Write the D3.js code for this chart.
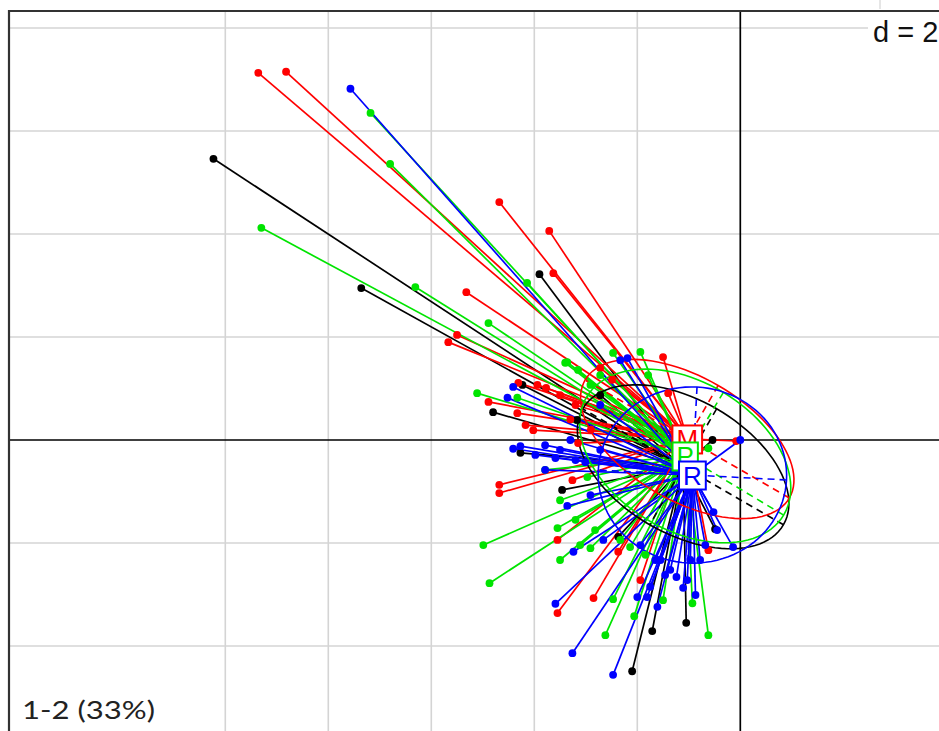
<!DOCTYPE html>
<html><head><meta charset="utf-8">
<script src="https://cdn.jsdelivr.net/npm/d3@7"></script>
<style>html,body{margin:0;padding:0;background:#fff;overflow:hidden} svg{display:block}</style>
</head><body>
<script>
// ---- data (factorial map coordinates, axis 1 horizontal, axis 2 vertical) ----
const groupNames  = ["K", "M", "P", "R"];
const groupLabels = ["", "M", "P", "R"];
const groupColors = ["#000000", "#ff0000", "#00e400", "#0000ff"];

// group means (centres of the stars / ellipses)
const centerX = [-1.11, -1.03, -1.07, -0.93];
const centerY = [-0.52,  0.02, -0.31, -0.68];

// ellipse semi-axes and orientation (degrees)
const ellA     = [2.25, 2.29, 2.23, 1.83];
const ellB     = [1.30, 1.20, 1.44, 1.71];
const ellAngle = [-30, -30, -31, -3];

const blackX = [-10.23, -7.36, -3.90, -4.23, -4.80, -4.27, -3.46, -2.37, -1.71, -1.05, -2.10, -0.49, -0.54, -3.17, -2.72];
const blackY = [  5.46,  2.95,  3.22,  1.07,  0.54, -0.25, -0.97, -1.88, -3.71, -3.55, -4.49, -1.73,  0.00,  0.39,  0.87];

const redX = [-9.36, -8.82, -4.68, -3.71, -3.63, -5.32, -5.67, -5.50, -4.89, -4.33, -4.17, -4.02, -3.94, -3.15, -4.68, -4.68,
              -3.26, -3.55, -3.55, -2.85, -2.37, -1.94, -0.62, -1.50, -1.40, -0.08, -3.77, -3.50, -4.31, -2.72, -2.49, -3.20,
              -2.90, -3.30];
const redY = [ 7.13,  7.15,  4.62,  4.06,  3.24,  2.87,  1.90,  2.04,  0.74,  0.52,  0.29,  0.19,  1.07, -0.06, -0.87, -1.03,
              -0.78, -1.94, -3.36, -3.07, -2.17, -2.72, -2.14,  1.61,  0.91, -0.02,  1.01,  0.87,  1.11,  1.40,  1.17,  0.68,
               0.20,  0.40];

const greenX = [-9.30, -7.18, -6.80, -6.31, -4.89, -4.14, -3.36, -2.47, -5.11, -4.33, -3.55, -4.99, -4.87, -2.97, -3.11, -2.91,
                -2.14, -2.47, -2.06, -1.50, -0.93, -2.62, -0.62, -3.40, -1.94, -1.79, -0.62, -3.15, -2.72, -2.91, -3.79, -3.50, -1.84,
                -3.20, -2.82, -2.33, -3.50];
const greenY = [ 4.12,  6.35,  5.36,  2.97,  2.27,  3.05,  1.51,  1.69,  0.91,  0.82, -1.71, -2.04, -2.78, -0.72, -2.04, -2.10,
                -2.08, -3.09, -3.42, -3.11, -3.17, -3.79, -3.79,  1.50,  1.71,  1.26, -0.16,  1.36,  1.26,  1.07, -0.58, -1.17, -2.23,
                -1.55, -1.75, -1.94, -2.33];

const blueX = [-7.57, -4.41, -4.52, -4.41, -3.36, -3.24, -3.59, -3.26, -2.47, -2.00, -1.81, -1.61, -1.24, -1.11, -0.87, -0.14,
                0.00, -2.33, -2.19, -2.66, -1.75, -1.03, -0.52, -0.45, -4.27, -3.98, -3.79, -3.50, -3.20, -2.91, -2.72,
               -1.55, -1.36, -0.78, -0.68, -0.97, -3.79, -3.59, -3.30, -3.01, -2.72, -1.94, -1.65, -1.46];
const blueY = [ 6.82,  1.03,  0.82, -0.17, -1.28, -2.17, -3.18, -4.14, -4.56, -3.05, -3.05, -3.24, -2.66, -2.87, -3.01, -2.08,
                0.00,  1.55,  1.59, -1.94, -2.85, -2.72, -1.40, -1.75, -0.12, -0.29, -0.58, -0.19, -0.39, -1.07,  0.68,
               -2.33, -2.52, -2.33, -2.04, -2.33, -0.10, -0.35,  0.00, -0.43, -0.19, -2.04, -2.33, -2.62];

const pointsX = [blackX, redX, greenX, blueX];
const pointsY = [blackY, redY, greenY, blueY];

// grid lines drawn in the reference (d = 2)
const gridX = [-10, -8, -6, -4, -2];
const gridY = [-6, -4, -2, 2, 4, 6, 8];
const gridLabel = "d = 2";
const axesLabel = "1-2 (33%)";

// ---- drawing ----
const W = 939, H = 731;
const svg = d3.select("body").append("svg").attr("width", W).attr("height", H);
svg.append("rect").attr("width", W).attr("height", H).attr("fill", "#fff");

const xDom = [-14.2, 4.2], yDom = [8.33, -6.2];
const unit = 51.5;
const x = d3.scaleLinear().domain(xDom).range([9, 9 + (xDom[1] - xDom[0]) * unit]);
const y = d3.scaleLinear().domain(yDom).range([11, 11 + (yDom[0] - yDom[1]) * unit]);

const plot = svg.append("g");

// grid
plot.selectAll(".gx").data(gridX).enter().append("line")
  .attr("x1", d => x(d)).attr("x2", d => x(d)).attr("y1", y(yDom[0])).attr("y2", y(yDom[1]))
  .attr("stroke", "#d4d4d4").attr("stroke-width", 1.6);
plot.selectAll(".gy").data(gridY).enter().append("line")
  .attr("y1", d => y(d)).attr("y2", d => y(d)).attr("x1", x(xDom[0])).attr("x2", x(xDom[1]))
  .attr("stroke", "#d4d4d4").attr("stroke-width", 1.6);

// axes through origin
plot.append("line").attr("x1", x(0)).attr("x2", x(0)).attr("y1", y(yDom[0])).attr("y2", y(yDom[1]))
  .attr("stroke", "#000").attr("stroke-width", 1.7);
plot.append("line").attr("y1", y(0)).attr("y2", y(0)).attr("x1", x(xDom[0])).attr("x2", x(xDom[1]))
  .attr("stroke", "#000").attr("stroke-width", 1.7);

// stars
groupNames.forEach((g, i) => {
  const cx = centerX[i], cy = centerY[i];
  plot.append("g").selectAll("line").data(d3.range(pointsX[i].length)).enter().append("line")
    .attr("x1", x(cx)).attr("y1", y(cy))
    .attr("x2", j => x(pointsX[i][j])).attr("y2", j => y(pointsY[i][j]))
    .attr("stroke", groupColors[i]).attr("stroke-width", 1.7);
});

// ellipses with their axes
groupNames.forEach((g, i) => {
  const mx = centerX[i], my = centerY[i], a = ellA[i], b = ellB[i], th = ellAngle[i] * Math.PI / 180;
  const pts = d3.range(100).map(k => {
    const t = 2 * Math.PI * k / 100;
    return [mx + a * Math.cos(th) * Math.cos(t) - b * Math.sin(th) * Math.sin(t),
            my + a * Math.sin(th) * Math.cos(t) + b * Math.cos(th) * Math.sin(t)];
  });
  const line = d3.line().x(p => x(p[0])).y(p => y(p[1])).curve(d3.curveLinearClosed);
  plot.append("path").attr("d", line(pts)).attr("fill", "none")
    .attr("stroke", groupColors[i]).attr("stroke-width", 1.6);
  const segs = [
    [mx + a * Math.cos(th), my + a * Math.sin(th), mx - a * Math.cos(th), my - a * Math.sin(th)],
    [mx - b * Math.sin(th), my + b * Math.cos(th), mx + b * Math.sin(th), my - b * Math.cos(th)]
  ];
  segs.forEach(s => plot.append("line")
    .attr("x1", x(s[0])).attr("y1", y(s[1])).attr("x2", x(s[2])).attr("y2", y(s[3]))
    .attr("stroke", groupColors[i]).attr("stroke-width", 1.6).attr("stroke-dasharray", "7,5"));
});

// points
groupNames.forEach((g, i) => {
  plot.append("g").selectAll("circle").data(d3.range(pointsX[i].length)).enter().append("circle")
    .attr("cx", j => x(pointsX[i][j])).attr("cy", j => y(pointsY[i][j])).attr("r", 3.9)
    .attr("fill", groupColors[i]);
});

// group labels
groupNames.forEach((g, i) => {
  if (!groupLabels[i]) return;
  const px = x(centerX[i]), py = y(centerY[i]);
  const lg = plot.append("g");
  const t = lg.append("text").attr("x", px).attr("y", py + 9.5).attr("text-anchor", "middle")
    .attr("font-family", "Liberation Sans, Arial, sans-serif").attr("font-size", 26)
    .attr("fill", groupColors[i]).text(groupLabels[i]);
  const w = t.node().getComputedTextLength() + 8;
  lg.insert("rect", "text").attr("x", px - w / 2).attr("y", py - 13.5).attr("width", w).attr("height", 28)
    .attr("fill", "#fff").attr("stroke", groupColors[i]).attr("stroke-width", 2);
});

// frame
svg.append("line").attr("x1", 9).attr("x2", 9).attr("y1", 10).attr("y2", H + 5).attr("stroke", "#333").attr("stroke-width", 2.2);
svg.append("line").attr("x1", 8).attr("x2", W + 5).attr("y1", 11).attr("y2", 11).attr("stroke", "#333").attr("stroke-width", 2.2);

// d = 2 box
svg.append("rect").attr("x", 868).attr("y", 12.5).attr("width", 80).attr("height", 38).attr("fill", "#fff");
svg.append("text").attr("x", 873).attr("y", 42).attr("font-family", "Liberation Sans, Arial, sans-serif")
  .attr("font-size", 29).attr("fill", "#111").text(gridLabel);
svg.append("line").attr("x1", 880).attr("x2", 880).attr("y1", 0).attr("y2", 9).attr("stroke", "#ccc").attr("stroke-width", 1);

// axes label
svg.append("text").attr("x", 22).attr("y", 719).attr("font-family", "Lato, 'Open Sans', sans-serif")
  .attr("font-size", 25).attr("fill", "#222")
  .attr("textLength", 133).attr("lengthAdjust", "spacingAndGlyphs").text(axesLabel);
</script>
</body></html>
